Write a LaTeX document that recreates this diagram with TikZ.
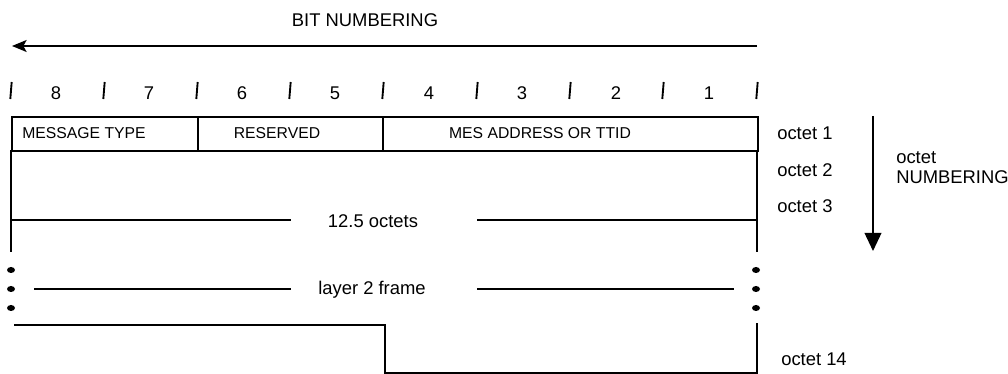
\documentclass[tikz,border=0pt]{standalone}
\usepackage{fontspec}
\setmainfont{Liberation Sans}
\usetikzlibrary{arrows.meta,shapes.geometric}
\begin{document}
\begin{tikzpicture}[x=0.75pt,y=-0.75pt,
  ln/.style={line width=1.2pt},
  lbl/.style={inner sep=0pt,font=\fontsize{13.8pt}{15pt}\selectfont},
  boxtxt/.style={inner sep=0pt,font=\fontsize{11.8pt}{13pt}\selectfont},
  cell/.style={draw,line width=1.2pt,minimum height=25.5pt,inner sep=0pt,anchor=north west},
  tick/.style={line width=1.4pt},
  dot/.style={fill=black,ellipse,minimum width=6pt,minimum height=4.5pt,inner sep=0pt}]
\useasboundingbox (0,0) rectangle (1008,374);
% bit numbering
\node[lbl] (bitlbl) at (365,20) {BIT NUMBERING};
\coordinate (ba) at (757,46);
\coordinate (bb) at (12,46);
\draw[ln,-{Stealth[length=11pt,width=9pt,inset=2.5pt]}] (ba) -- (bb);
% ticks and digits
\foreach \i/\x in {0/11,1/104,2/197,3/290,4/383,5/477,6/570,7/663,8/757}{
  \coordinate (t\i a) at (\x+0.7,82);
  \coordinate (t\i b) at (\x-0.7,99);
  \draw[tick] (t\i a) -- (t\i b);
}
\foreach \d/\x in {8/56,7/149,6/242,5/335,4/429,3/522,2/616,1/709}{
  \node[lbl] (d\d) at (\x,93) {\d};
}
% octet 1 cells
\node[cell,minimum width=139.5pt] (c1) at (11,116) {};
\node[cell,minimum width=138.75pt] (c2) at (197,116) {};
\node[cell,minimum width=281.25pt] (c3) at (382,116) {};
\node[boxtxt] (t1) at (84,133) {MESSAGE TYPE};
\node[boxtxt] (t2) at (277,133) {RESERVED};
\node[boxtxt] (t3) at (540,133) {MES ADDRESS OR TTID};
% frame sides
\coordinate (lt) at (11,150); \coordinate (lb) at (11,252);
\coordinate (rt) at (757,150); \coordinate (rb) at (757,252);
\draw[ln] (lt) -- (lb);
\draw[ln] (rt) -- (rb);
% 12.5 octets
\node[lbl] (oct) at (373,221) {12.5 octets};
\coordinate (o1) at (11,220); \coordinate (o2) at (291,220);
\coordinate (o3) at (477,220); \coordinate (o4) at (757,220);
\draw[ln] (o1) -- (o2);
\draw[ln] (o3) -- (o4);
% dots
\foreach \y/\n in {270/1,289/2,308/3}{
  \node[dot] (ld\n) at (11,\y) {};
  \node[dot] (rd\n) at (756,\y) {};
}
% layer 2 frame
\node[lbl] (l2) at (372,290) {layer 2 frame};
\coordinate (f1) at (34,289); \coordinate (f2) at (291,289);
\coordinate (f3) at (477,289); \coordinate (f4) at (734,289);
\draw[ln] (f1) -- (f2);
\draw[ln] (f3) -- (f4);
% bottom step
\coordinate (s1) at (14,325); \coordinate (s2) at (385,325);
\coordinate (s3) at (385,373); \coordinate (s4) at (757,373);
\coordinate (s5) at (757,323);
\draw[ln] (s1) -- (s2) -- (s3) -- (s4) -- (s5);
% octet labels
\node[lbl,anchor=west] (oc1) at (777,133) {octet 1};
\node[lbl,anchor=west] (oc2) at (777,170) {octet 2};
\node[lbl,anchor=west] (oc3) at (777,206) {octet 3};
\node[lbl,anchor=west] (oc14) at (781,359) {octet 14};
% octet numbering arrow
\coordinate (na) at (873,116);
\coordinate (nb) at (873,251);
\draw[ln,-{Triangle[length=13.5pt,width=12.5pt]}] (na) -- (nb);
\node[lbl,anchor=west,align=left] (onum) at (896,168) {octet\\NUMBERING};
\end{tikzpicture}
\end{document}
